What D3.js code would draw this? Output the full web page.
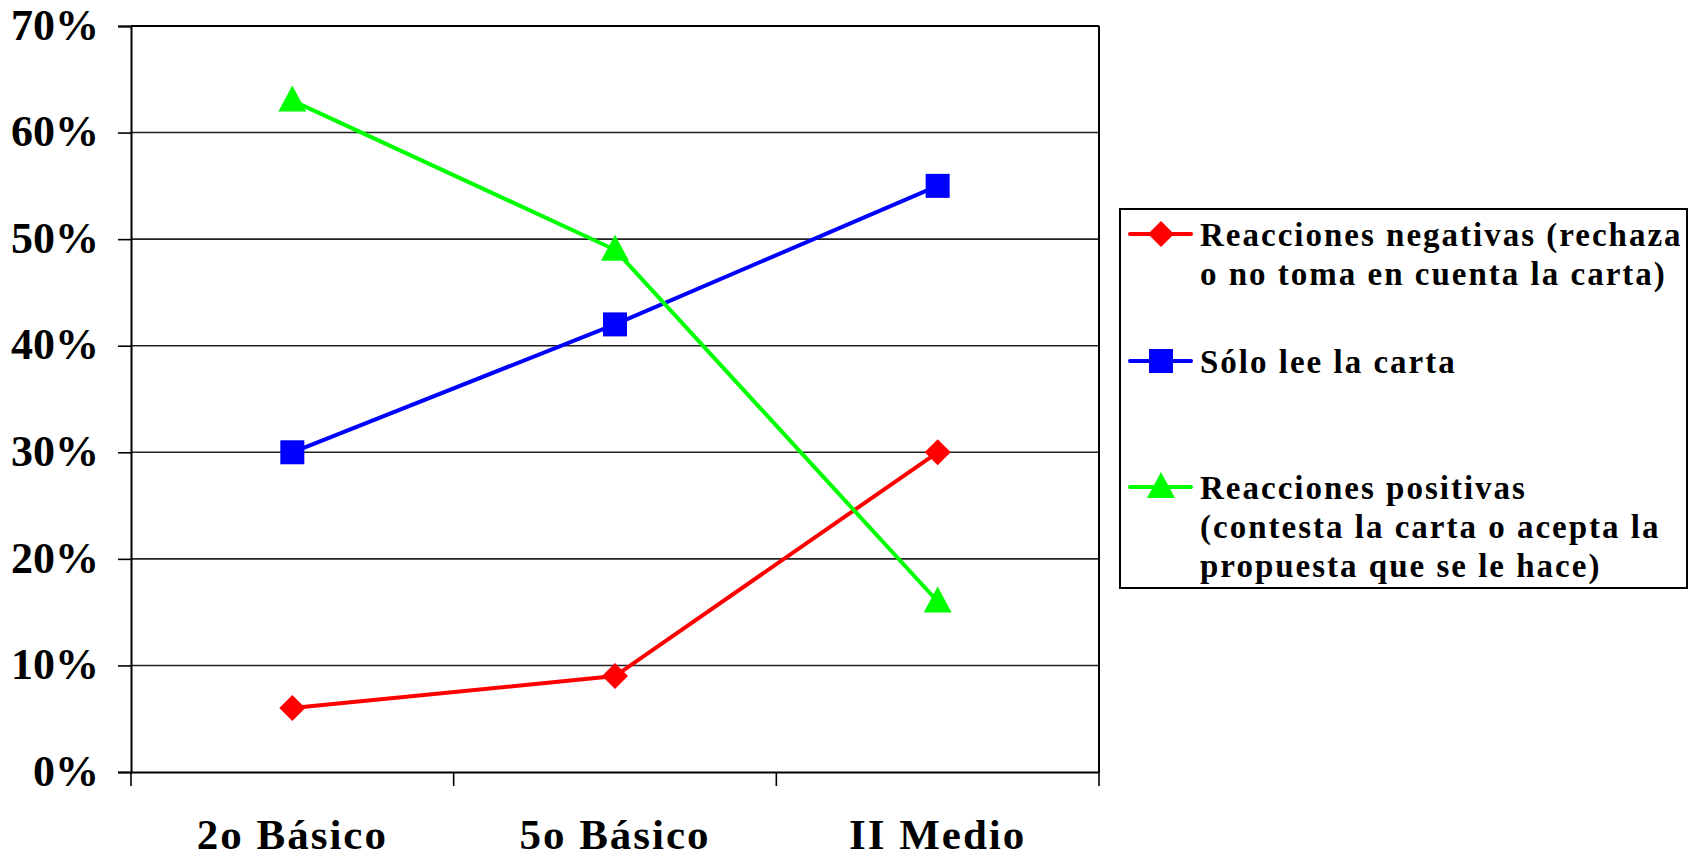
<!DOCTYPE html>
<html><head><meta charset="utf-8">
<script src="https://cdn.jsdelivr.net/npm/d3@7"></script>
<style>body{margin:0;background:#fff}svg{display:block}</style>
</head><body>
<svg id="c" width="1698" height="859"></svg>
<script>
const categories = ["2o Básico", "5o Básico", "II Medio"];
const negativas = [0.06, 0.09, 0.30];
const soloLee = [0.30, 0.42, 0.55];
const positivas = [0.63, 0.49, 0.16];
const yTicks = [0, 0.1, 0.2, 0.3, 0.4, 0.5, 0.6, 0.7];
const seriesNames = [
  ["Reacciones negativas (rechaza", "o no toma en cuenta la carta)"],
  ["Sólo lee la carta"],
  ["Reacciones positivas", "(contesta la carta o acepta la", "propuesta que se le hace)"]
];

const series = [
  {name: seriesNames[0], values: negativas, color: "#ff0000", shape: "diamond"},
  {name: seriesNames[1], values: soloLee, color: "#0000ff", shape: "square"},
  {name: seriesNames[2], values: positivas, color: "#00ff00", shape: "triangle"}
];

const svg = d3.select("#c");
const m = {left: 131, right: 1099, top: 26, bottom: 772};
const font = "Liberation Serif";

const x = d3.scaleBand().domain(categories).range([m.left, m.right]);
const y = d3.scaleLinear().domain([0, 0.7]).range([m.bottom, m.top]);

// gridlines
svg.append("g").selectAll("line").data(yTicks.filter(d => d > 0)).join("line")
  .attr("x1", m.left).attr("x2", m.right)
  .attr("y1", d => y(d)).attr("y2", d => y(d))
  .attr("stroke", "#222").attr("stroke-width", 1.6);

// right border
svg.append("line").attr("x1", m.right).attr("x2", m.right).attr("y1", m.top).attr("y2", m.bottom)
  .attr("stroke", "#000").attr("stroke-width", 2);

// y axis
const yAxis = d3.axisLeft(y).tickValues(yTicks).tickFormat(d3.format(".0%")).tickSize(13).tickPadding(19);
const gy = svg.append("g").attr("transform", `translate(${m.left},0)`).call(yAxis);
gy.select(".domain").attr("stroke", "#000").attr("stroke-width", 2);
gy.selectAll(".tick line").attr("stroke", "#000").attr("stroke-width", 1.6);
gy.selectAll("text").style("font-family", font).style("font-weight", "bold")
  .style("font-size", "44px").attr("fill", "#000").attr("dy", "0.3em");

// x axis
const xAxis = d3.axisBottom(x).tickSize(0).tickPadding(46);
const gx = svg.append("g").attr("transform", `translate(0,${m.bottom})`).call(xAxis);
gx.select(".domain").attr("stroke", "#000").attr("stroke-width", 2);
gx.selectAll("text").style("font-family", font).style("font-weight", "bold")
  .style("font-size", "43px").style("letter-spacing", "2px").attr("fill", "#000");
// tick marks at category boundaries
const bounds = categories.map(c => x(c)).concat([x(categories[categories.length-1]) + x.bandwidth()]);
gx.append("g").selectAll("line").data(bounds).join("line")
  .attr("x1", d => d).attr("x2", d => d).attr("y1", 0).attr("y2", 14)
  .attr("stroke", "#000").attr("stroke-width", 1.6);

// top border
svg.append("line").attr("x1", m.left).attr("x2", m.right).attr("y1", m.top).attr("y2", m.top)
  .attr("stroke", "#000").attr("stroke-width", 2);

const cx = c => x(c) + x.bandwidth() / 2;
const line = d3.line().x((d, i) => cx(categories[i])).y(d => y(d));

function marker(g, shape, color, px, py) {
  if (shape === "diamond") {
    g.append("path").attr("d", `M${px},${py-13}L${px+13},${py}L${px},${py+13}L${px-13},${py}Z`).attr("fill", color);
  } else if (shape === "square") {
    g.append("rect").attr("x", px-12).attr("y", py-12).attr("width", 24).attr("height", 24).attr("fill", color);
  } else {
    g.append("path").attr("d", `M${px},${py-15}L${px+14},${py+11}L${px-14},${py+11}Z`).attr("fill", color);
  }
}

series.forEach(s => {
  const g = svg.append("g");
  g.append("path").datum(s.values).attr("d", line).attr("fill", "none")
    .attr("stroke", s.color).attr("stroke-width", 4);
  s.values.forEach((v, i) => marker(g, s.shape, s.color, cx(categories[i]), y(v)));
});

// legend
const lg = svg.append("g");
lg.append("rect").attr("x", 1120).attr("y", 209).attr("width", 567).attr("height", 379)
  .attr("fill", "#fff").attr("stroke", "#000").attr("stroke-width", 2);
const legendY = [234, 361, 487];
series.forEach((s, i) => {
  const ly = legendY[i];
  lg.append("line").attr("x1", 1130).attr("x2", 1191).attr("y1", ly).attr("y2", ly)
    .attr("stroke", s.color).attr("stroke-width", 4).attr("stroke-linecap", "round");
  marker(lg, s.shape, s.color, 1161, ly);
  const t = lg.append("text").style("font-family", font).style("font-weight", "bold")
    .style("font-size", "33px").style("letter-spacing", "2px").attr("fill", "#000");
  s.name.forEach((ln, j) => {
    t.append("tspan").attr("x", 1200).attr("y", ly + 12 + j * 39).text(ln);
  });
});
</script>
</body></html>
